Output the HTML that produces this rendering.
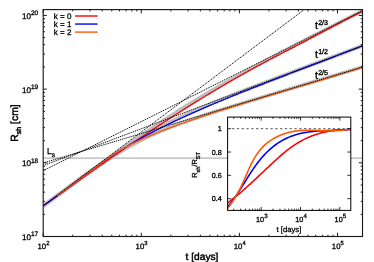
<!DOCTYPE html>
<html><head><meta charset="utf-8"><title>plot</title>
<style>html,body{margin:0;padding:0;background:#fff;}body{width:374px;height:262px;overflow:hidden;position:relative;font-family:"Liberation Sans",sans-serif;}</style></head>
<body>
<svg width="374" height="262" viewBox="0 0 374 262" style="position:absolute;left:0;top:0;font-family:'Liberation Sans',sans-serif" text-rendering="geometricPrecision">
<style>text{stroke:#000;stroke-width:0.3px;filter:grayscale(1)}</style>
<rect width="374" height="262" fill="#fff"/>
<defs><clipPath id="cm"><rect x="43.2" y="9.6" width="319.3" height="226.9"/></clipPath></defs>
<g clip-path="url(#cm)" fill="none" stroke-linejoin="round">
<path d="M43.2,158.2 H362.5" stroke="#b2b2b2" stroke-width="1.3"/>
<path d="M43.2,206.09 L45.2,204.61 L47.2,203.12 L49.2,201.64 L51.2,200.16 L53.2,198.68 L55.2,197.2 L57.2,195.72 L59.2,194.24 L61.2,192.76 L63.2,191.28 L65.2,189.81 L67.2,188.34 L69.2,186.86 L71.2,185.39 L73.2,183.92 L75.2,182.46 L77.2,180.99 L79.2,179.53 L81.2,178.06 L83.2,176.6 L85.2,175.14 L87.2,173.69 L89.2,172.23 L91.2,170.78 L93.2,169.33 L95.2,167.88 L97.2,166.43 L99.2,164.99 L101.2,163.55 L103.2,162.11 L105.2,160.68 L107.2,159.24 L109.2,157.81 L111.2,156.39 L113.2,154.96 L115.2,153.54 L117.2,152.13 L119.2,150.71 L121.2,149.3 L123.2,147.9 L125.2,146.5 L127.2,145.1 L129.2,143.7 L131.2,142.31 L133.2,140.93 L135.2,139.54 L137.2,138.17 L139.2,136.79 L141.2,135.42 L143.2,134.06 L145.2,132.7 L147.2,131.35 L149.2,130 L151.2,128.65 L153.2,127.31 L155.2,125.98 L157.2,124.65 L159.2,123.33 L161.2,122.01 L163.2,120.7 L165.2,119.39 L167.2,118.09 L169.2,116.8 L171.2,115.51 L173.2,114.23 L175.2,112.95 L177.2,111.68 L179.2,110.41 L181.2,109.15 L183.2,107.9 L185.2,106.65 L187.2,105.41 L189.2,104.17 L191.2,102.94 L193.2,101.72 L195.2,100.5 L197.2,99.29 L199.2,98.08 L201.2,96.88 L203.2,95.68 L205.2,94.49 L207.2,93.31 L209.2,92.13 L211.2,90.96 L213.2,89.79 L215.2,88.63 L217.2,87.47 L219.2,86.31 L221.2,85.17 L223.2,84.02 L225.2,82.89 L227.2,81.75 L229.2,80.62 L231.2,79.5 L233.2,78.38 L235.2,77.26 L237.2,76.15 L239.2,75.04 L241.2,73.94 L243.2,72.83 L245.2,71.74 L247.2,70.64 L249.2,69.55 L251.2,68.47 L253.2,67.39 L255.2,66.31 L257.2,65.23 L259.2,64.15 L261.2,63.08 L263.2,62.02 L265.2,60.95 L267.2,59.89 L269.2,58.83 L271.2,57.77 L273.2,56.71 L275.2,55.66 L277.2,54.61 L279.2,53.56 L281.2,52.51 L283.2,51.46 L285.2,50.42 L287.2,49.38 L289.2,48.34 L291.2,47.3 L293.2,46.26 L295.2,45.23 L297.2,44.19 L299.2,43.16 L301.2,42.13 L303.2,41.1 L305.2,40.07 L307.2,39.05 L309.2,38.02 L311.2,36.99 L313.2,35.97 L315.2,34.95 L317.2,33.92 L319.2,32.9 L321.2,31.88 L323.2,30.86 L325.2,29.84 L327.2,28.83 L329.2,27.81 L331.2,26.79 L333.2,25.78 L335.2,24.76 L337.2,23.75 L339.2,22.73 L341.2,21.72 L343.2,20.71 L345.2,19.69 L347.2,18.68 L349.2,17.67 L351.2,16.66 L353.2,15.65 L355.2,14.64 L357.2,13.63 L359.2,12.62 L361.2,11.61 L362.5,10.95" stroke="#bdbdbd" stroke-width="3.7"/>
<path d="M43.2,205.95 L45.2,204.46 L47.2,202.97 L49.2,201.49 L51.2,200.01 L53.2,198.53 L55.2,197.05 L57.2,195.57 L59.2,194.1 L61.2,192.62 L63.2,191.15 L65.2,189.68 L67.2,188.22 L69.2,186.75 L71.2,185.29 L73.2,183.83 L75.2,182.38 L77.2,180.93 L79.2,179.48 L81.2,178.03 L83.2,176.59 L85.2,175.16 L87.2,173.73 L89.2,172.3 L91.2,170.88 L93.2,169.46 L95.2,168.05 L97.2,166.64 L99.2,165.25 L101.2,163.85 L103.2,162.47 L105.2,161.09 L107.2,159.72 L109.2,158.36 L111.2,157 L113.2,155.66 L115.2,154.32 L117.2,152.99 L119.2,151.67 L121.2,150.37 L123.2,149.07 L125.2,147.78 L127.2,146.51 L129.2,145.24 L131.2,143.99 L133.2,142.75 L135.2,141.52 L137.2,140.31 L139.2,139.1 L141.2,137.91 L143.2,136.74 L145.2,135.57 L147.2,134.42 L149.2,133.28 L151.2,132.16 L153.2,131.05 L155.2,129.95 L157.2,128.86 L159.2,127.79 L161.2,126.73 L163.2,125.69 L165.2,124.65 L167.2,123.63 L169.2,122.62 L171.2,121.63 L173.2,120.64 L175.2,119.67 L177.2,118.7 L179.2,117.75 L181.2,116.81 L183.2,115.87 L185.2,114.95 L187.2,114.04 L189.2,113.13 L191.2,112.23 L193.2,111.35 L195.2,110.46 L197.2,109.59 L199.2,108.72 L201.2,107.87 L203.2,107.01 L205.2,106.16 L207.2,105.32 L209.2,104.49 L211.2,103.66 L213.2,102.83 L215.2,102.01 L217.2,101.19 L219.2,100.38 L221.2,99.57 L223.2,98.76 L225.2,97.96 L227.2,97.16 L229.2,96.37 L231.2,95.58 L233.2,94.79 L235.2,94 L237.2,93.21 L239.2,92.43 L241.2,91.65 L243.2,90.87 L245.2,90.09 L247.2,89.32 L249.2,88.54 L251.2,87.77 L253.2,87 L255.2,86.23 L257.2,85.46 L259.2,84.7 L261.2,83.93 L263.2,83.16 L265.2,82.4 L267.2,81.64 L269.2,80.87 L271.2,80.11 L273.2,79.35 L275.2,78.59 L277.2,77.83 L279.2,77.07 L281.2,76.31 L283.2,75.56 L285.2,74.8 L287.2,74.04 L289.2,73.28 L291.2,72.53 L293.2,71.77 L295.2,71.02 L297.2,70.26 L299.2,69.5 L301.2,68.75 L303.2,67.99 L305.2,67.24 L307.2,66.49 L309.2,65.73 L311.2,64.98 L313.2,64.23 L315.2,63.47 L317.2,62.72 L319.2,61.97 L321.2,61.21 L323.2,60.46 L325.2,59.71 L327.2,58.95 L329.2,58.2 L331.2,57.45 L333.2,56.7 L335.2,55.94 L337.2,55.19 L339.2,54.44 L341.2,53.69 L343.2,52.94 L345.2,52.18 L347.2,51.43 L349.2,50.68 L351.2,49.93 L353.2,49.18 L355.2,48.42 L357.2,47.67 L359.2,46.92 L361.2,46.17 L362.5,45.68" stroke="#bdbdbd" stroke-width="3.7"/>
<path d="M43.2,205.89 L45.2,204.41 L47.2,202.92 L49.2,201.44 L51.2,199.95 L53.2,198.47 L55.2,196.99 L57.2,195.52 L59.2,194.04 L61.2,192.57 L63.2,191.1 L65.2,189.64 L67.2,188.18 L69.2,186.72 L71.2,185.26 L73.2,183.81 L75.2,182.37 L77.2,180.92 L79.2,179.49 L81.2,178.06 L83.2,176.63 L85.2,175.21 L87.2,173.8 L89.2,172.39 L91.2,171 L93.2,169.61 L95.2,168.23 L97.2,166.85 L99.2,165.49 L101.2,164.14 L103.2,162.8 L105.2,161.47 L107.2,160.16 L109.2,158.85 L111.2,157.56 L113.2,156.29 L115.2,155.03 L117.2,153.78 L119.2,152.55 L121.2,151.34 L123.2,150.14 L125.2,148.97 L127.2,147.81 L129.2,146.66 L131.2,145.54 L133.2,144.43 L135.2,143.35 L137.2,142.28 L139.2,141.23 L141.2,140.2 L143.2,139.19 L145.2,138.2 L147.2,137.23 L149.2,136.27 L151.2,135.34 L153.2,134.42 L155.2,133.52 L157.2,132.63 L159.2,131.76 L161.2,130.91 L163.2,130.07 L165.2,129.25 L167.2,128.44 L169.2,127.64 L171.2,126.86 L173.2,126.09 L175.2,125.33 L177.2,124.58 L179.2,123.84 L181.2,123.11 L183.2,122.39 L185.2,121.68 L187.2,120.97 L189.2,120.28 L191.2,119.59 L193.2,118.9 L195.2,118.23 L197.2,117.56 L199.2,116.89 L201.2,116.23 L203.2,115.57 L205.2,114.92 L207.2,114.27 L209.2,113.63 L211.2,112.99 L213.2,112.35 L215.2,111.71 L217.2,111.08 L219.2,110.45 L221.2,109.82 L223.2,109.2 L225.2,108.57 L227.2,107.95 L229.2,107.33 L231.2,106.71 L233.2,106.1 L235.2,105.48 L237.2,104.87 L239.2,104.25 L241.2,103.64 L243.2,103.03 L245.2,102.42 L247.2,101.81 L249.2,101.2 L251.2,100.59 L253.2,99.98 L255.2,99.37 L257.2,98.77 L259.2,98.16 L261.2,97.56 L263.2,96.95 L265.2,96.34 L267.2,95.74 L269.2,95.13 L271.2,94.53 L273.2,93.93 L275.2,93.32 L277.2,92.72 L279.2,92.12 L281.2,91.51 L283.2,90.91 L285.2,90.31 L287.2,89.7 L289.2,89.1 L291.2,88.5 L293.2,87.9 L295.2,87.3 L297.2,86.69 L299.2,86.09 L301.2,85.49 L303.2,84.89 L305.2,84.29 L307.2,83.68 L309.2,83.08 L311.2,82.48 L313.2,81.88 L315.2,81.28 L317.2,80.68 L319.2,80.08 L321.2,79.47 L323.2,78.87 L325.2,78.27 L327.2,77.67 L329.2,77.07 L331.2,76.47 L333.2,75.87 L335.2,75.27 L337.2,74.66 L339.2,74.06 L341.2,73.46 L343.2,72.86 L345.2,72.26 L347.2,71.66 L349.2,71.06 L351.2,70.46 L353.2,69.86 L355.2,69.25 L357.2,68.65 L359.2,68.05 L361.2,67.45 L362.5,67.06" stroke="#bdbdbd" stroke-width="3.7"/>
<path d="M43.2,205.8 L58.7,195.03 L60.7,193.58 L62.7,192.13 L64.7,190.69 L66.7,189.24 L68.7,187.8 L70.7,186.36 L72.7,184.92 L74.7,183.49 L76.7,182.05 L78.7,180.62 L80.7,179.19 L82.7,177.76 L84.7,176.34 L86.7,174.91 L88.7,173.49 L90.7,172.07 L92.7,170.66 L94.7,169.25 L96.7,167.84 L98.7,166.43 L100.7,165.03 L102.7,163.62 L104.7,162.23 L106.7,160.83 L108.7,159.44 L110.7,158.05 L112.7,156.66 L114.7,155.28 L116.7,153.9 L118.7,152.52 L120.7,151.15 L122.7,149.78 L124.7,148.41 L126.7,147.05 L128.7,145.69 L130.7,144.33 L132.7,142.97 L134.7,141.62 L136.7,140.28 L138.7,138.93 L140.7,137.59 L142.7,136.25 L144.7,134.92 L146.7,133.58 L148.7,132.26 L150.7,130.93 L152.7,129.61 L154.7,128.29 L156.7,126.98 L158.7,125.66 L160.7,124.35 L162.7,123.05 L164.7,121.75 L166.7,120.45 L168.7,119.15 L170.7,117.86 L172.7,116.57 L174.7,115.29 L176.7,114.01 L178.7,112.73 L180.7,111.46 L182.7,110.19 L184.7,108.92 L186.7,107.66 L188.7,106.4 L190.7,105.15 L192.7,103.9 L194.7,102.66 L196.7,101.42 L198.7,100.19 L200.7,98.96 L202.7,97.74 L204.7,96.52 L206.7,95.3 L208.7,94.09 L210.7,92.89 L212.7,91.69 L214.7,90.49 L216.7,89.31 L218.7,88.12 L220.7,86.94 L222.7,85.77 L224.7,84.6 L226.7,83.43 L228.7,82.27 L230.7,81.11 L232.7,79.96 L234.7,78.81 L236.7,77.67 L238.7,76.53 L240.7,75.4 L242.7,74.27 L244.7,73.14 L246.7,72.02 L248.7,70.91 L250.7,69.8 L252.7,68.7 L254.7,67.6 L256.7,66.5 L258.7,65.41 L260.7,64.33 L262.7,63.25 L264.7,62.18 L266.7,61.11 L268.7,60.05 L270.7,58.99 L272.7,57.94 L274.7,56.89 L276.7,55.85 L278.7,54.81 L280.7,53.77 L282.7,52.74 L284.7,51.7 L286.7,50.67 L288.7,49.64 L290.7,48.61 L292.7,47.58 L294.7,46.55 L296.7,45.51 L298.7,44.48 L300.7,43.44 L302.7,42.4 L304.7,41.35 L306.7,40.3 L308.7,39.25 L310.7,38.2 L312.7,37.14 L314.7,36.08 L316.7,35.02 L318.7,33.96 L320.7,32.9 L322.7,31.83 L324.7,30.77 L326.7,29.71 L328.7,28.64 L330.7,27.58 L332.7,26.52 L334.7,25.47 L336.7,24.41 L338.7,23.36 L340.7,22.31 L342.7,21.27 L344.7,20.23 L346.7,19.2 L348.7,18.16 L350.7,17.14 L352.7,16.11 L354.7,15.09 L356.7,14.07 L358.7,13.06 L360.7,12.05 L362.5,11.14" stroke="#ff0000" stroke-width="1.3"/>
<path d="M43.2,205.8 L58.7,194.68 L60.7,193.21 L62.7,191.72 L64.7,190.22 L66.7,188.71 L68.7,187.19 L70.7,185.67 L72.7,184.16 L74.7,182.64 L76.7,181.12 L78.7,179.61 L80.7,178.1 L82.7,176.59 L84.7,175.1 L86.7,173.61 L88.7,172.13 L90.7,170.67 L92.7,169.21 L94.7,167.76 L96.7,166.33 L98.7,164.91 L100.7,163.5 L102.7,162.11 L104.7,160.72 L106.7,159.36 L108.7,158.01 L110.7,156.67 L112.7,155.35 L114.7,154.04 L116.7,152.75 L118.7,151.47 L120.7,150.21 L122.7,148.97 L124.7,147.74 L126.7,146.53 L128.7,145.33 L130.7,144.15 L132.7,142.99 L134.7,141.84 L136.7,140.7 L138.7,139.58 L140.7,138.47 L142.7,137.37 L144.7,136.29 L146.7,135.22 L148.7,134.15 L150.7,133.1 L152.7,132.06 L154.7,131.03 L156.7,130.01 L158.7,129 L160.7,127.99 L162.7,127 L164.7,126.01 L166.7,125.03 L168.7,124.06 L170.7,123.1 L172.7,122.14 L174.7,121.19 L176.7,120.25 L178.7,119.32 L180.7,118.39 L182.7,117.47 L184.7,116.55 L186.7,115.64 L188.7,114.73 L190.7,113.83 L192.7,112.94 L194.7,112.05 L196.7,111.17 L198.7,110.29 L200.7,109.41 L202.7,108.54 L204.7,107.67 L206.7,106.81 L208.7,105.95 L210.7,105.1 L212.7,104.25 L214.7,103.41 L216.7,102.56 L218.7,101.73 L220.7,100.89 L222.7,100.06 L224.7,99.23 L226.7,98.41 L228.7,97.59 L230.7,96.77 L232.7,95.95 L234.7,95.14 L236.7,94.33 L238.7,93.52 L240.7,92.72 L242.7,91.92 L244.7,91.12 L246.7,90.32 L248.7,89.53 L250.7,88.73 L252.7,87.94 L254.7,87.16 L256.7,86.37 L258.7,85.59 L260.7,84.8 L262.7,84.02 L264.7,83.24 L266.7,82.47 L268.7,81.69 L270.7,80.92 L272.7,80.14 L274.7,79.37 L276.7,78.6 L278.7,77.83 L280.7,77.07 L282.7,76.3 L284.7,75.53 L286.7,74.77 L288.7,74.01 L290.7,73.24 L292.7,72.48 L294.7,71.72 L296.7,70.96 L298.7,70.2 L300.7,69.44 L302.7,68.68 L304.7,67.92 L306.7,67.16 L308.7,66.4 L310.7,65.64 L312.7,64.88 L314.7,64.12 L316.7,63.36 L318.7,62.6 L320.7,61.84 L322.7,61.08 L324.7,60.32 L326.7,59.56 L328.7,58.8 L330.7,58.04 L332.7,57.28 L334.7,56.52 L336.7,55.75 L338.7,54.99 L340.7,54.22 L342.7,53.46 L344.7,52.69 L346.7,51.92 L348.7,51.15 L350.7,50.38 L352.7,49.61 L354.7,48.83 L356.7,48.06 L358.7,47.28 L360.7,46.5 L362.5,45.8" stroke="#0000ff" stroke-width="1.3"/>
<path d="M56.6,196.13 L58.7,194.61 L60.7,193.15 L62.7,191.69 L64.7,190.22 L66.7,188.74 L68.7,187.26 L70.7,185.78 L72.7,184.29 L74.7,182.81 L76.7,181.32 L78.7,179.83 L80.7,178.33 L82.7,176.84 L84.7,175.34 L86.7,173.85 L88.7,172.35 L90.7,170.86 L92.7,169.36 L94.7,167.87 L96.7,166.38 L98.7,164.89 L100.7,163.4 L102.7,161.93 L104.7,160.48 L106.7,159.05 L108.7,157.65 L110.7,156.28 L112.7,154.94 L114.7,153.65 L116.7,152.39 L118.7,151.18 L120.7,150 L122.7,148.86 L124.7,147.75 L126.7,146.67 L128.7,145.61 L130.7,144.59 L132.7,143.59 L134.7,142.61 L136.7,141.65 L138.7,140.72 L140.7,139.8 L142.7,138.9 L144.7,138.02 L146.7,137.15 L148.7,136.3 L150.7,135.46 L152.7,134.64 L154.7,133.82 L156.7,133.02 L158.7,132.23 L160.7,131.44 L162.7,130.67 L164.7,129.9 L166.7,129.14 L168.7,128.38 L170.7,127.64 L172.7,126.89 L174.7,126.16 L176.7,125.42 L178.7,124.7 L180.7,123.98 L182.7,123.26 L184.7,122.55 L186.7,121.84 L188.7,121.14 L190.7,120.44 L192.7,119.75 L194.7,119.06 L196.7,118.38 L198.7,117.7 L200.7,117.02 L202.7,116.35 L204.7,115.68 L206.7,115.01 L208.7,114.35 L210.7,113.69 L212.7,113.04 L214.7,112.38 L216.7,111.74 L218.7,111.09 L220.7,110.45 L222.7,109.81 L224.7,109.17 L226.7,108.53 L228.7,107.9 L230.7,107.27 L232.7,106.64 L234.7,106.02 L236.7,105.4 L238.7,104.78 L240.7,104.16 L242.7,103.54 L244.7,102.93 L246.7,102.31 L248.7,101.7 L250.7,101.09 L252.7,100.48 L254.7,99.88 L256.7,99.27 L258.7,98.67 L260.7,98.07 L262.7,97.46 L264.7,96.86 L266.7,96.26 L268.7,95.67 L270.7,95.07 L272.7,94.47 L274.7,93.87 L276.7,93.28 L278.7,92.68 L280.7,92.09 L282.7,91.5 L284.7,90.9 L286.7,90.31 L288.7,89.71 L290.7,89.12 L292.7,88.53 L294.7,87.93 L296.7,87.34 L298.7,86.74 L300.7,86.15 L302.7,85.56 L304.7,84.96 L306.7,84.36 L308.7,83.77 L310.7,83.17 L312.7,82.57 L314.7,81.97 L316.7,81.37 L318.7,80.77 L320.7,80.17 L322.7,79.56 L324.7,78.96 L326.7,78.35 L328.7,77.74 L330.7,77.13 L332.7,76.52 L334.7,75.91 L336.7,75.3 L338.7,74.68 L340.7,74.06 L342.7,73.44 L344.7,72.82 L346.7,72.19 L348.7,71.57 L350.7,70.94 L352.7,70.31 L354.7,69.67 L356.7,69.04 L358.7,68.4 L360.7,67.75 L362.5,67.17" stroke="#ff5a00" stroke-width="1.3"/>
<path d="M43.2,205.7 L362.5,-34.15" stroke="#000" stroke-width="1" stroke-dasharray="1.15 0.85"/>
<path d="M43.2,170.7 L362.5,10.8" stroke="#000" stroke-width="1" stroke-dasharray="1.15 0.85"/>
<path d="M43.2,165.6 L362.5,45.68" stroke="#000" stroke-width="1" stroke-dasharray="1.15 0.85"/>
<path d="M43.2,163 L362.5,67.06" stroke="#000" stroke-width="1" stroke-dasharray="1.15 0.85"/>
</g>
<rect x="227.6" y="117.1" width="123.20000000000002" height="93.30000000000001" fill="#fff"/>
<defs><clipPath id="ci"><rect x="227.6" y="117.1" width="123.20000000000002" height="93.30000000000001"/></clipPath></defs>
<g clip-path="url(#ci)" fill="none" stroke-linejoin="round">
<path d="M232.1,128.7 H350.8" stroke="#000" stroke-width="0.7" stroke-dasharray="2.2 2.6"/>
<path d="M227.6,202.9 L229.1,201.78 L230.6,200.63 L232.1,199.46 L233.6,198.27 L235.1,197.06 L236.6,195.83 L238.1,194.58 L239.6,193.32 L241.1,192.03 L242.6,190.73 L244.1,189.42 L245.6,188.09 L247.1,186.75 L248.6,185.4 L250.1,184.04 L251.6,182.66 L253.1,181.28 L254.6,179.89 L256.1,178.5 L257.6,177.1 L259.1,175.69 L260.6,174.28 L262.1,172.87 L263.6,171.46 L265.1,170.04 L266.6,168.63 L268.1,167.21 L269.6,165.8 L271.1,164.4 L272.6,162.99 L274.1,161.6 L275.6,160.22 L277.1,158.85 L278.6,157.5 L280.1,156.16 L281.6,154.85 L283.1,153.57 L284.6,152.32 L286.1,151.1 L287.6,149.91 L289.1,148.77 L290.6,147.66 L292.1,146.59 L293.6,145.56 L295.1,144.57 L296.6,143.62 L298.1,142.7 L299.6,141.82 L301.1,140.98 L302.6,140.17 L304.1,139.39 L305.6,138.65 L307.1,137.95 L308.6,137.28 L310.1,136.64 L311.6,136.03 L313.1,135.45 L314.6,134.91 L316.1,134.4 L317.6,133.91 L319.1,133.46 L320.6,133.03 L322.1,132.64 L323.6,132.27 L325.1,131.92 L326.6,131.61 L328.1,131.32 L329.6,131.06 L331.1,130.82 L332.6,130.61 L334.1,130.42 L335.6,130.25 L337.1,130.11 L338.6,129.99 L340.1,129.89 L341.6,129.81 L343.1,129.76 L344.6,129.72 L346.1,129.71 L347.6,129.71 L349.1,129.73 L350.6,129.77 L350.8,129.78" stroke="#ff0000" stroke-width="1.6"/>
<path d="M227.6,206.68 L229.1,205.01 L230.6,203.21 L232.1,201.29 L233.6,199.27 L235.1,197.16 L236.6,194.97 L238.1,192.71 L239.6,190.39 L241.1,188.03 L242.6,185.65 L244.1,183.24 L245.6,180.83 L247.1,178.42 L248.6,176.04 L250.1,173.68 L251.6,171.37 L253.1,169.12 L254.6,166.94 L256.1,164.84 L257.6,162.82 L259.1,160.89 L260.6,159.05 L262.1,157.29 L263.6,155.61 L265.1,154 L266.6,152.47 L268.1,151.02 L269.6,149.63 L271.1,148.32 L272.6,147.07 L274.1,145.88 L275.6,144.76 L277.1,143.7 L278.6,142.69 L280.1,141.75 L281.6,140.85 L283.1,140.01 L284.6,139.22 L286.1,138.48 L287.6,137.78 L289.1,137.12 L290.6,136.51 L292.1,135.95 L293.6,135.42 L295.1,134.93 L296.6,134.47 L298.1,134.05 L299.6,133.67 L301.1,133.31 L302.6,132.99 L304.1,132.7 L305.6,132.43 L307.1,132.19 L308.6,131.97 L310.1,131.77 L311.6,131.6 L313.1,131.44 L314.6,131.3 L316.1,131.18 L317.6,131.07 L319.1,130.97 L320.6,130.89 L322.1,130.81 L323.6,130.75 L325.1,130.68 L326.6,130.63 L328.1,130.57 L329.6,130.52 L331.1,130.47 L332.6,130.41 L334.1,130.36 L335.6,130.29 L337.1,130.23 L338.6,130.15 L340.1,130.06 L341.6,129.96 L343.1,129.85 L344.6,129.73 L346.1,129.59 L347.6,129.43 L349.1,129.25 L350.6,129.05 L350.8,129.02" stroke="#0000ff" stroke-width="1.6"/>
<path d="M227.6,208.39 L229.1,206.49 L230.6,204.47 L232.1,202.32 L233.6,200.04 L235.1,197.63 L236.6,195.08 L238.1,192.39 L239.6,189.55 L241.1,186.56 L242.6,183.4 L244.1,180.09 L245.6,176.65 L247.1,173.17 L248.6,169.73 L250.1,166.42 L251.6,163.33 L253.1,160.47 L254.6,157.84 L256.1,155.43 L257.6,153.22 L259.1,151.19 L260.6,149.34 L262.1,147.66 L263.6,146.11 L265.1,144.7 L266.6,143.41 L268.1,142.23 L269.6,141.14 L271.1,140.13 L272.6,139.18 L274.1,138.3 L275.6,137.47 L277.1,136.7 L278.6,135.98 L280.1,135.32 L281.6,134.7 L283.1,134.14 L284.6,133.62 L286.1,133.15 L287.6,132.72 L289.1,132.33 L290.6,131.99 L292.1,131.68 L293.6,131.4 L295.1,131.16 L296.6,130.95 L298.1,130.77 L299.6,130.62 L301.1,130.5 L302.6,130.4 L304.1,130.33 L305.6,130.27 L307.1,130.23 L308.6,130.21 L310.1,130.21 L311.6,130.22 L313.1,130.24 L314.6,130.27 L316.1,130.3 L317.6,130.35 L319.1,130.39 L320.6,130.44 L322.1,130.49 L323.6,130.54 L325.1,130.58 L326.6,130.62 L328.1,130.65 L329.6,130.67 L331.1,130.68 L332.6,130.68 L334.1,130.66 L335.6,130.63 L337.1,130.58 L338.6,130.5 L340.1,130.41 L341.6,130.29 L343.1,130.14 L344.6,129.97 L346.1,129.76 L347.6,129.53 L349.1,129.26 L350.6,128.95 L350.8,128.91" stroke="#ff5a00" stroke-width="1.6"/>
</g>
<path d="M233.73,210.4 v-1.8 M233.73,117.1 v1.8 M240.65,210.4 v-1.8 M240.65,117.1 v1.8 M245.56,210.4 v-1.8 M245.56,117.1 v1.8 M249.37,210.4 v-1.8 M249.37,117.1 v1.8 M252.48,210.4 v-1.8 M252.48,117.1 v1.8 M255.11,210.4 v-1.8 M255.11,117.1 v1.8 M257.39,210.4 v-1.8 M257.39,117.1 v1.8 M259.4,210.4 v-1.8 M259.4,117.1 v1.8 M261.2,210.4 v-3.5 M261.2,117.1 v3.5 M273.03,210.4 v-1.8 M273.03,117.1 v1.8 M279.95,210.4 v-1.8 M279.95,117.1 v1.8 M284.86,210.4 v-1.8 M284.86,117.1 v1.8 M288.67,210.4 v-1.8 M288.67,117.1 v1.8 M291.78,210.4 v-1.8 M291.78,117.1 v1.8 M294.41,210.4 v-1.8 M294.41,117.1 v1.8 M296.69,210.4 v-1.8 M296.69,117.1 v1.8 M298.7,210.4 v-1.8 M298.7,117.1 v1.8 M300.5,210.4 v-3.5 M300.5,117.1 v3.5 M312.33,210.4 v-1.8 M312.33,117.1 v1.8 M319.25,210.4 v-1.8 M319.25,117.1 v1.8 M324.16,210.4 v-1.8 M324.16,117.1 v1.8 M327.97,210.4 v-1.8 M327.97,117.1 v1.8 M331.08,210.4 v-1.8 M331.08,117.1 v1.8 M333.71,210.4 v-1.8 M333.71,117.1 v1.8 M335.99,210.4 v-1.8 M335.99,117.1 v1.8 M338,210.4 v-1.8 M338,117.1 v1.8 M339.8,210.4 v-3.5 M339.8,117.1 v3.5 M227.6,198.66 h3.5 M350.8,198.66 h-3.5 M227.6,175.34 h3.5 M350.8,175.34 h-3.5 M227.6,152.02 h3.5 M350.8,152.02 h-3.5 M227.6,128.7 h3.5 M350.8,128.7 h-3.5" stroke="#000" stroke-width="0.8" fill="none"/>
<rect x="227.6" y="117.1" width="123.20000000000002" height="93.30000000000001" fill="none" stroke="#000" stroke-width="1"/>
<text x="221.8" y="131.3" font-size="7.2" text-anchor="end">1</text>
<text x="221.8" y="154.62" font-size="7.2" text-anchor="end">0.8</text>
<text x="221.8" y="177.94" font-size="7.2" text-anchor="end">0.6</text>
<text x="221.8" y="201.26" font-size="7.2" text-anchor="end">0.4</text>
<text x="256" y="222.1" font-size="7.3">10<tspan font-size="6.1" dy="-3.9">3</tspan></text>
<text x="295.3" y="222.1" font-size="7.3">10<tspan font-size="6.1" dy="-3.9">4</tspan></text>
<text x="334.6" y="222.1" font-size="7.3">10<tspan font-size="6.1" dy="-3.9">5</tspan></text>
<text x="288.9" y="232.4" font-size="7.7" text-anchor="middle">t [days]</text>
<text transform="translate(197.3,177.8) rotate(-90)" font-size="7.3">R<tspan font-size="5.7" dy="2.2">sh</tspan><tspan dy="-2.2">/R</tspan><tspan font-size="5.7" dy="2.2">ST</tspan></text>
<path d="M43.2,236.5 v-3.7 M43.2,9.6 v3.7 M72.73,236.5 v-1.8 M72.73,9.6 v1.8 M90.01,236.5 v-1.8 M90.01,9.6 v1.8 M102.26,236.5 v-1.8 M102.26,9.6 v1.8 M111.77,236.5 v-1.8 M111.77,9.6 v1.8 M119.54,236.5 v-1.8 M119.54,9.6 v1.8 M126.1,236.5 v-1.8 M126.1,9.6 v1.8 M131.79,236.5 v-1.8 M131.79,9.6 v1.8 M136.81,236.5 v-1.8 M136.81,9.6 v1.8 M141.3,236.5 v-3.7 M141.3,9.6 v3.7 M170.83,236.5 v-1.8 M170.83,9.6 v1.8 M188.11,236.5 v-1.8 M188.11,9.6 v1.8 M200.36,236.5 v-1.8 M200.36,9.6 v1.8 M209.87,236.5 v-1.8 M209.87,9.6 v1.8 M217.64,236.5 v-1.8 M217.64,9.6 v1.8 M224.2,236.5 v-1.8 M224.2,9.6 v1.8 M229.89,236.5 v-1.8 M229.89,9.6 v1.8 M234.91,236.5 v-1.8 M234.91,9.6 v1.8 M239.4,236.5 v-3.7 M239.4,9.6 v3.7 M268.93,236.5 v-1.8 M268.93,9.6 v1.8 M286.21,236.5 v-1.8 M286.21,9.6 v1.8 M298.46,236.5 v-1.8 M298.46,9.6 v1.8 M307.97,236.5 v-1.8 M307.97,9.6 v1.8 M315.74,236.5 v-1.8 M315.74,9.6 v1.8 M322.3,236.5 v-1.8 M322.3,9.6 v1.8 M327.99,236.5 v-1.8 M327.99,9.6 v1.8 M333.01,236.5 v-1.8 M333.01,9.6 v1.8 M337.5,236.5 v-3.7 M337.5,9.6 v3.7 M43.2,236.5 h3.7 M362.5,236.5 h-3.7 M43.2,214.32 h1.8 M362.5,214.32 h-1.8 M43.2,201.34 h1.8 M362.5,201.34 h-1.8 M43.2,192.13 h1.8 M362.5,192.13 h-1.8 M43.2,184.99 h1.8 M362.5,184.99 h-1.8 M43.2,179.16 h1.8 M362.5,179.16 h-1.8 M43.2,174.22 h1.8 M362.5,174.22 h-1.8 M43.2,169.95 h1.8 M362.5,169.95 h-1.8 M43.2,166.18 h1.8 M362.5,166.18 h-1.8 M43.2,162.81 h3.7 M362.5,162.81 h-3.7 M43.2,140.63 h1.8 M362.5,140.63 h-1.8 M43.2,127.65 h1.8 M362.5,127.65 h-1.8 M43.2,118.44 h1.8 M362.5,118.44 h-1.8 M43.2,111.3 h1.8 M362.5,111.3 h-1.8 M43.2,105.47 h1.8 M362.5,105.47 h-1.8 M43.2,100.53 h1.8 M362.5,100.53 h-1.8 M43.2,96.26 h1.8 M362.5,96.26 h-1.8 M43.2,92.49 h1.8 M362.5,92.49 h-1.8 M43.2,89.12 h3.7 M362.5,89.12 h-3.7 M43.2,66.94 h1.8 M362.5,66.94 h-1.8 M43.2,53.96 h1.8 M362.5,53.96 h-1.8 M43.2,44.75 h1.8 M362.5,44.75 h-1.8 M43.2,37.61 h1.8 M362.5,37.61 h-1.8 M43.2,31.78 h1.8 M362.5,31.78 h-1.8 M43.2,26.84 h1.8 M362.5,26.84 h-1.8 M43.2,22.57 h1.8 M362.5,22.57 h-1.8 M43.2,18.8 h1.8 M362.5,18.8 h-1.8 M43.2,15.43 h3.7 M362.5,15.43 h-3.7" stroke="#000" stroke-width="0.9" fill="none"/>
<rect x="43.2" y="9.6" width="319.3" height="226.9" fill="none" stroke="#1a1a1a" stroke-width="1.15"/>
<text x="38.2" y="239.9" font-size="8.1" text-anchor="end">10<tspan font-size="6.5" dy="-3.7">17</tspan></text>
<text x="38.2" y="166.21" font-size="8.1" text-anchor="end">10<tspan font-size="6.5" dy="-3.7">18</tspan></text>
<text x="38.2" y="92.52" font-size="8.1" text-anchor="end">10<tspan font-size="6.5" dy="-3.7">19</tspan></text>
<text x="38.2" y="18.83" font-size="8.1" text-anchor="end">10<tspan font-size="6.5" dy="-3.7">20</tspan></text>
<text x="37.5" y="248.7" font-size="7.8">10<tspan font-size="5.8" dy="-3.5">2</tspan></text>
<text x="135.6" y="248.7" font-size="7.8">10<tspan font-size="5.8" dy="-3.5">3</tspan></text>
<text x="233.7" y="248.7" font-size="7.8">10<tspan font-size="5.8" dy="-3.5">4</tspan></text>
<text x="331.8" y="248.7" font-size="7.8">10<tspan font-size="5.8" dy="-3.5">5</tspan></text>
<text x="202" y="259.6" font-size="10.2" text-anchor="middle" style="stroke-width:0.45px">t [days]</text>
<text transform="translate(18.3,141.7) rotate(-90)" font-size="10.4" style="stroke-width:0.45px">R<tspan font-size="7" dy="2.8">sh</tspan><tspan dy="-2.8"> [cm]</tspan></text>
<text x="71.4" y="18.85" font-size="8" text-anchor="end">k = 0</text>
<path d="M75.1,16 H97.6" stroke="#ff0000" stroke-width="1.4"/>
<text x="71.4" y="26.9" font-size="8" text-anchor="end">k = 1</text>
<path d="M75.1,24.05 H97.6" stroke="#0000ff" stroke-width="1.4"/>
<text x="71.4" y="34.95" font-size="8" text-anchor="end">k = 2</text>
<path d="M75.1,32.1 H97.6" stroke="#ff5a00" stroke-width="1.4"/>
<text x="47" y="154.4" font-size="8.6">L<tspan font-size="6.5" dy="2.6">s</tspan></text>
<text x="315.1" y="28.6" font-size="10.9" style="stroke-width:0.35px">t<tspan font-size="7.1" dy="-4">2/3</tspan></text>
<text x="315.1" y="58" font-size="10.9" style="stroke-width:0.35px">t<tspan font-size="7.1" dy="-4">1/2</tspan></text>
<text x="315.1" y="78.6" font-size="10.9" style="stroke-width:0.35px">t<tspan font-size="7.1" dy="-4">2/5</tspan></text>
</svg>
</body></html>
